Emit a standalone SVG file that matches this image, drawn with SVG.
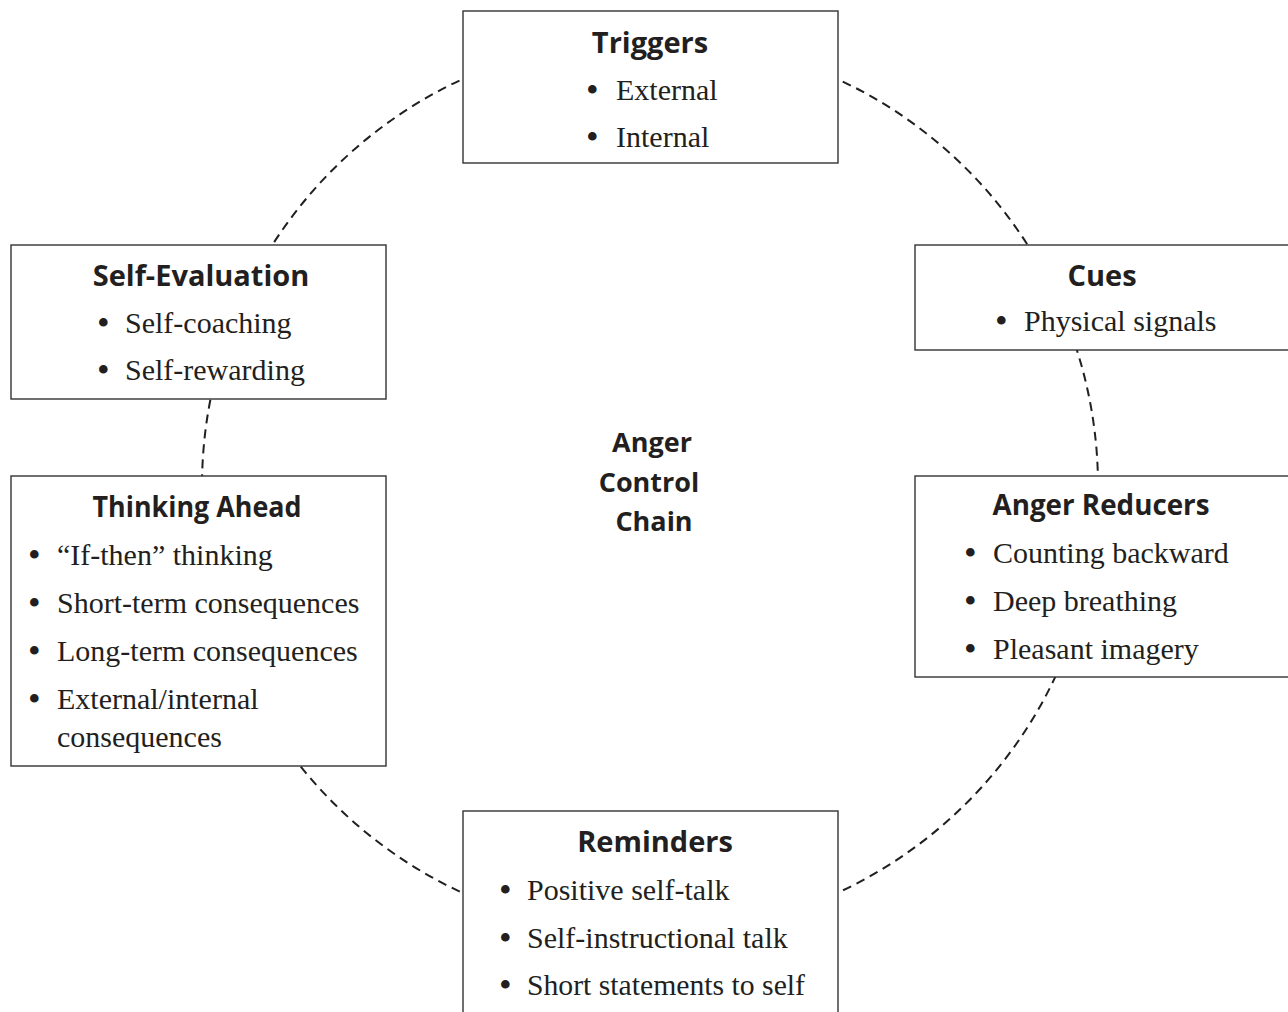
<svg xmlns="http://www.w3.org/2000/svg" width="1288" height="1012" viewBox="0 0 1288 1012">
<style>
.box{fill:#fff;stroke:#333;stroke-width:1.4}
.t{font-family:"Open Sans","Liberation Sans",sans-serif;font-weight:700;font-size:29px;fill:#231f20;text-anchor:middle}
.c{font-size:27px}
.i{font-family:"Liberation Serif","Times New Roman",serif;font-size:30px;fill:#231f20}
.b{font-family:"Liberation Serif","Times New Roman",serif;font-size:36px;fill:#231f20}
.ring{fill:none;stroke:#231f20;stroke-width:2;stroke-dasharray:9 6}
</style>
<rect width="1288" height="1012" fill="#fff"/>
<g id="connectors">
<circle class="ring" cx="650" cy="486" r="448"/>
</g>
<g id="center">
<text class="t c" x="652" y="452">Anger</text>
<text class="t c" x="649" y="492">Control</text>
<text class="t c" x="654" y="531">Chain</text>
</g>
<g id="triggers">
<rect class="box" x="463" y="11" width="375" height="152"/>
<text class="t" x="650" y="53">Triggers</text>
<text class="b" x="586" y="102">•</text><text class="i" x="616" y="100">External</text>
<text class="b" x="586" y="149">•</text><text class="i" x="616" y="147">Internal</text>
</g>
<g id="cues">
<rect class="box" x="915" y="245" width="385" height="105"/>
<text class="t" x="1102" y="286">Cues</text>
<text class="b" x="995" y="333">•</text><text class="i" x="1024" y="331">Physical signals</text>
</g>
<g id="self-evaluation">
<rect class="box" x="11" y="245" width="375" height="154"/>
<text class="t" x="201" y="286">Self-Evaluation</text>
<text class="b" x="97" y="335">•</text><text class="i" x="125" y="333">Self-coaching</text>
<text class="b" x="97" y="382">•</text><text class="i" x="125" y="380">Self-rewarding</text>
</g>
<g id="thinking-ahead">
<rect class="box" x="11" y="476" width="375" height="290"/>
<text class="t" x="197" y="517" textLength="209" lengthAdjust="spacingAndGlyphs">Thinking Ahead</text>
<text class="b" x="28" y="567">•</text><text class="i" x="57" y="565">“If-then” thinking</text>
<text class="b" x="28" y="615">•</text><text class="i" x="57" y="613">Short-term consequences</text>
<text class="b" x="28" y="663">•</text><text class="i" x="57" y="661">Long-term consequences</text>
<text class="b" x="28" y="711">•</text><text class="i" x="57" y="709">External/internal</text>
<text class="i" x="57" y="747">consequences</text>
</g>
<g id="anger-reducers">
<rect class="box" x="915" y="476" width="385" height="201"/>
<text class="t" x="1101" y="515" textLength="217" lengthAdjust="spacingAndGlyphs">Anger Reducers</text>
<text class="b" x="964" y="565">•</text><text class="i" x="993" y="563">Counting backward</text>
<text class="b" x="964" y="613">•</text><text class="i" x="993" y="611">Deep breathing</text>
<text class="b" x="964" y="661">•</text><text class="i" x="993" y="659">Pleasant imagery</text>
</g>
<g id="reminders">
<rect class="box" x="463" y="811" width="375" height="210"/>
<text class="t" x="655" y="852">Reminders</text>
<text class="b" x="499" y="902">•</text><text class="i" x="527" y="900">Positive self-talk</text>
<text class="b" x="499" y="950">•</text><text class="i" x="527" y="948">Self-instructional talk</text>
<text class="b" x="499" y="997">•</text><text class="i" x="527" y="995" textLength="278" lengthAdjust="spacingAndGlyphs">Short statements to self</text>
</g>
</svg>
